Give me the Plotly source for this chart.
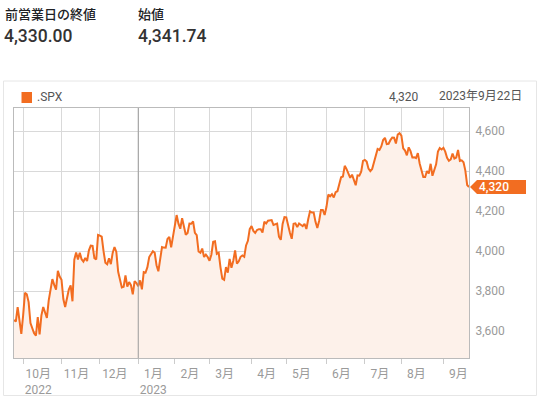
import pandas as pd
import plotly.graph_objects as go

# ---------------- data ----------------
start_date = "2022-09-26"
end_date = "2023-09-22"
market_holidays = ["2022-11-24", "2022-12-26", "2023-01-02", "2023-01-16", "2023-02-20",
                   "2023-04-07", "2023-05-29", "2023-06-19", "2023-07-04", "2023-09-04"]

closes = [
    # 2022-09
    3655.04, 3647.29, 3719.04, 3640.47, 3585.62,
    # 2022-10
    3678.43, 3790.93, 3783.28, 3744.52, 3639.66, 3612.39, 3588.84, 3577.03, 3669.91, 3583.07,
    3677.95, 3719.98, 3695.16, 3665.78, 3752.75, 3797.34, 3859.11, 3830.60, 3807.30, 3901.06, 3871.98,
    # 2022-11
    3856.10, 3759.69, 3719.89, 3770.55, 3806.80, 3828.11, 3748.57, 3956.37, 3992.93, 3957.25,
    3991.73, 3958.79, 3946.56, 3965.34, 3949.94, 4003.58, 4027.26, 4026.12, 3963.94, 3957.63, 4080.11,
    # 2022-12
    4076.57, 4071.70, 3998.84, 3941.26, 3933.92, 3963.51, 3934.38, 3990.56, 4019.65, 3995.32,
    3895.75, 3852.36, 3817.66, 3821.62, 3878.44, 3822.39, 3844.82, 3829.25, 3783.22, 3849.28, 3839.50,
    # 2023-01
    3824.14, 3852.97, 3808.10, 3895.08, 3892.09, 3919.25, 3969.61, 3983.17, 3999.09, 3990.97,
    3928.86, 3898.85, 3972.61, 4019.81, 4016.95, 4016.22, 4060.43, 4070.56, 4017.77, 4076.60,
    # 2023-02
    4119.21, 4179.76, 4136.48, 4111.08, 4164.00, 4117.86, 4081.50, 4090.46, 4137.29, 4136.13,
    4147.60, 4090.41, 4079.09, 3997.34, 3991.05, 4012.32, 3970.04, 3982.24, 3970.15,
    # 2023-03
    3951.39, 3981.35, 4045.64, 4048.42, 3986.37, 3992.01, 3918.32, 3861.59, 3855.76, 3919.29,
    3891.93, 3960.28, 3916.64, 3951.57, 4002.87, 3936.97, 3948.72, 3970.99, 3977.53, 3971.27,
    4027.81, 4050.83, 4109.31,
    # 2023-04
    4124.51, 4100.60, 4090.38, 4105.02, 4109.11, 4108.94, 4091.95, 4146.22, 4137.64, 4151.32,
    4154.87, 4154.52, 4129.79, 4133.52, 4137.04, 4071.63, 4055.99, 4135.35, 4169.48,
    # 2023-05
    4167.87, 4119.58, 4090.75, 4061.22, 4136.25, 4138.12, 4119.17, 4137.64, 4130.62, 4124.08,
    4136.28, 4109.90, 4158.77, 4198.05, 4191.98, 4192.63, 4145.58, 4115.24, 4151.28, 4205.45,
    4205.52, 4179.83,
    # 2023-06
    4221.02, 4282.37, 4273.79, 4283.85, 4267.52, 4293.93, 4298.86, 4338.93, 4369.01, 4372.59,
    4425.84, 4409.59, 4388.71, 4365.69, 4381.89, 4348.33, 4328.82, 4378.41, 4376.86, 4396.44, 4450.38,
    # 2023-07
    4455.59, 4446.82, 4411.59, 4398.95, 4409.53, 4439.26, 4472.16, 4510.04, 4505.42, 4522.79,
    4554.98, 4565.72, 4534.87, 4536.34, 4554.64, 4567.46, 4566.75, 4537.41, 4582.23, 4588.96,
    # 2023-08
    4576.73, 4513.39, 4501.89, 4478.03, 4518.44, 4499.38, 4467.71, 4468.83, 4464.05, 4489.72,
    4437.86, 4404.33, 4370.36, 4369.71, 4399.77, 4387.55, 4436.01, 4376.31, 4405.71, 4433.31,
    4497.63, 4514.87, 4507.66,
    # 2023-09
    4515.77, 4496.83, 4465.48, 4451.14, 4457.49, 4487.46, 4461.90, 4467.44, 4505.10, 4450.32,
    4453.53, 4443.95, 4402.20, 4330.00, 4320.06,
]

month_labels = ["10月<br>2022", "11月", "12月", "1月<br>2023", "2月", "3月", "4月",
                "5月", "6月", "7月", "8月", "9月"]
y_ticks = [3600, 3800, 4000, 4200, 4400, 4600]

header_prev_label = "前営業日の終値"
header_prev_value = "4,330.00"
header_open_label = "始値"
header_open_value = "4,341.74"
series_name = ".SPX"
last_label = "4,320"
date_label = "2023年9月22日"

# ---------------- build ----------------
dates = [d for d in pd.bdate_range(start_date, end_date) if d.strftime("%Y-%m-%d") not in market_holidays]
date_str = [d.strftime("%Y-%m-%d") for d in dates]
# first trading day of each month (skip partial starting month)
month_firsts = []
seen = set()
for d in dates:
    key = (d.year, d.month)
    if key not in seen:
        seen.add(key)
        month_firsts.append(d.strftime("%Y-%m-%d"))
month_firsts = month_firsts[1:]
year_start = [s for s in month_firsts if s.startswith("2023-01")][0]

ORANGE = "#f26d21"
FONT = "Roboto, 'Noto Sans CJK JP', sans-serif"

W, H = 543, 399
L, R, T, B = 14, 74, 108, 41
PW, PH = W - L - R, H - T - B


def px(x):
    return (x - L) / PW


def py(y):
    return (H - B - y) / PH


fig = go.Figure()
fig.add_trace(go.Scatter(
    x=date_str, y=closes, mode="lines",
    line=dict(color=ORANGE, width=2),
    fill="tozeroy", fillcolor="#fdf1ea",
    name=series_name, hoverinfo="skip",
))

shapes = [
    # outer panel
    dict(type="rect", xref="paper", yref="paper", x0=px(3.5), x1=px(536.5), y0=py(81), y1=py(395.5),
         line=dict(color="#e6e6e6", width=1), layer="below"),
    # year separator
    dict(type="line", xref="x", yref="paper", x0=year_start, x1=year_start, y0=0, y1=1,
         line=dict(color="#9a9a9a", width=1), layer="above"),
    # legend swatch
    dict(type="rect", xref="paper", yref="paper", x0=px(21.5), x1=px(32), y0=py(92), y1=py(103),
         fillcolor=ORANGE, line=dict(width=0)),
    # current price tag
    dict(type="path", xref="paper", yref="y", xsizemode="pixel", ysizemode="pixel",
         xanchor=1, yanchor=closes[-1],
         path="M 1 0 L 8 7 L 57 7 L 57 -7 L 8 -7 Z",
         fillcolor=ORANGE, line=dict(width=0)),
]

annotations = [
    dict(text=header_prev_label, x=px(3), y=py(14), xanchor="left", yanchor="middle",
         font=dict(size=13, color="#202124", family=FONT, weight=500)),
    dict(text=header_prev_value, x=px(2), y=py(36.5), xanchor="left", yanchor="middle",
         font=dict(size=17.5, color="#333333", family=FONT, weight=500)),
    dict(text=header_open_label, x=px(136), y=py(14), xanchor="left", yanchor="middle",
         font=dict(size=13, color="#202124", family=FONT, weight=500)),
    dict(text=header_open_value, x=px(135.5), y=py(36.5), xanchor="left", yanchor="middle",
         font=dict(size=17.5, color="#333333", family=FONT, weight=500)),
    dict(text=series_name, x=px(35), y=py(97.5), xanchor="left", yanchor="middle",
         font=dict(size=12, color="#555555", family=FONT)),
    dict(text=last_label, x=px(421), y=py(97.5), xanchor="right", yanchor="middle",
         font=dict(size=12, color="#555555", family=FONT)),
    dict(text=date_label, x=px(437), y=py(96), xanchor="left", yanchor="middle",
         font=dict(size=12, color="#555555", family=FONT)),
    dict(text=last_label, xref="paper", yref="y", x=1, y=closes[-1], xanchor="left", yanchor="middle",
         xshift=8, font=dict(size=12, color="white", family=FONT, weight=500)),
]
for a in annotations:
    a.setdefault("xref", "paper")
    a.setdefault("yref", "paper")
    a["showarrow"] = False

fig.update_layout(
    width=W, height=H,
    margin=dict(l=L, r=R, t=T, b=B, pad=0, autoexpand=False),
    paper_bgcolor="white", plot_bgcolor="white",
    showlegend=False,
    font=dict(family=FONT, size=12, color="#999999"),
    shapes=shapes, annotations=annotations,
    xaxis=dict(
        type="category", range=[0, len(date_str) - 1], automargin=False,
        tickmode="array", tickvals=month_firsts, ticktext=month_labels,
        showgrid=True, gridcolor="#d9d9d9", gridwidth=1,
        ticks="outside", ticklen=5, tickcolor="#cccccc",
        showline=True, linecolor="#bbbbbb", linewidth=1, mirror=True,
        tickfont=dict(size=12, color="#9a9a9a"), ticklabelshift=15,
        zeroline=False,
    ),
    yaxis=dict(
        side="right", range=[3465, 4715], automargin=False,
        tickmode="array", tickvals=y_ticks, tickformat=",",
        showgrid=True, gridcolor="#d9d9d9", gridwidth=1,
        ticks="", showline=True, linecolor="#bbbbbb", linewidth=1, mirror=True,
        tickfont=dict(size=12, color="#9a9a9a"), ticklabelstandoff=3,
        zeroline=False,
    ),
)

fig.write_html("out.html")
